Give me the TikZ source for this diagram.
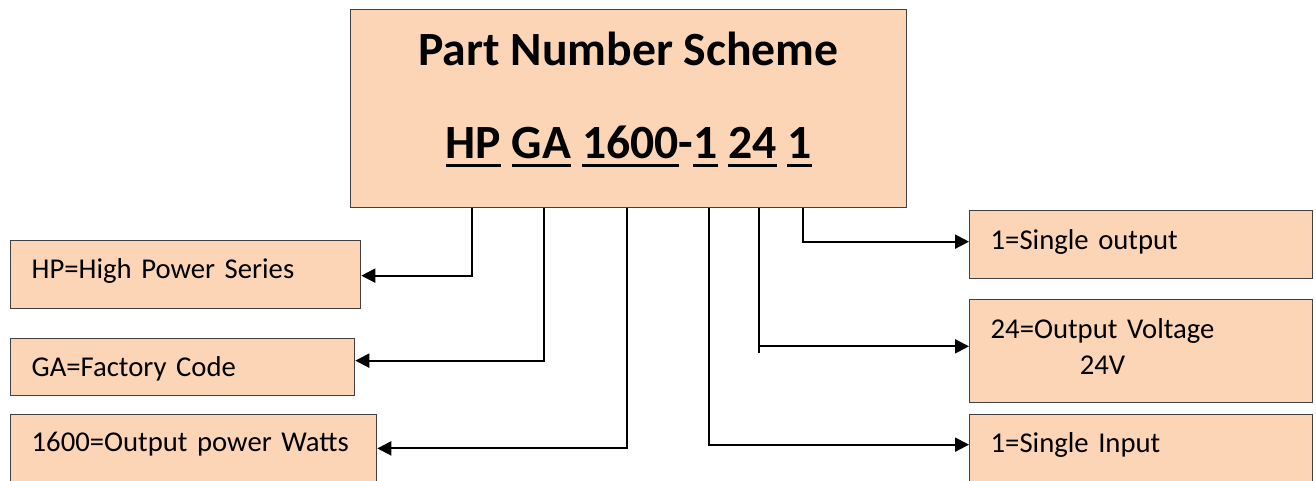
\documentclass[tikz,border=0pt]{standalone}
\usepackage{fontspec}
\setmainfont{Carlito}
\usetikzlibrary{arrows.meta,calc}
\definecolor{peach}{RGB}{251,213,181}
\definecolor{boxline}{RGB}{64,64,64}
\newcommand{\segul}[1]{\setbox0\hbox{#1}\rlap{\rule[-8.5pt]{\wd0}{3pt}}\box0\relax}
\tikzset{
  infobox/.style={draw=boxline, line width=1.3pt, fill=peach, anchor=north west,
    inner xsep=21pt, inner ysep=0pt, align=left, font=\fontsize{28.7}{36}\selectfont},
  feed/.style={line width=2pt, -{Triangle[length=14pt,width=14pt]}},
  wire/.style={line width=2pt}
}
\begin{document}
\begin{tikzpicture}[x=1pt,y=-1pt]
\useasboundingbox (0,0) rectangle (1316,481);
% scheme box
\node[infobox, inner xsep=0pt, minimum width=556pt, text height=149.3pt, text depth=48.4pt,
  align=center, font=\fontsize{47.7}{93}\selectfont\bfseries] (main) at (350,9)
  {Part Number Scheme\\\segul{HP} \segul{GA} \segul{1600}-\segul{1} \segul{24} \segul{1}};
% left column
\node[infobox, text width=308pt, text height=38.3pt, text depth=29.7pt] (hp) at (10,240) {HP=High Power Series};
\node[infobox, text width=302pt, text height=37.7pt, text depth=19.3pt] (ga) at (10,338) {GA=Factory Code};
\node[infobox, text width=324pt, text height=36.7pt, text depth=40pt] (pw) at (10,414) {1600=Output power Watts};
% right column
\node[infobox, text width=301pt, text height=39pt, text depth=29pt] (so) at (969,210) {1=Single output};
\node[infobox, text width=301pt, text height=39pt, text depth=64pt] (ov) at (969,299)
  {\begin{tabular}[t]{@{}c@{}}24=Output Voltage\\24V\end{tabular}};
\node[infobox, text width=301pt, text height=38pt, text depth=40pt] (si) at (969,414) {1=Single Input};
% connectors
\draw[feed] ($(main.south west)+(122,0)$) |- ([yshift=-1pt]hp.east);
\draw[feed] ($(main.south west)+(194,0)$) |- ([yshift=6.5pt]ga.east);
\draw[feed] ($(main.south west)+(277,0)$) |- ([yshift=4.6pt]pw.east);
\draw[feed] ($(main.south west)+(359,0)$) |- ([yshift=9pt]si.west);
\draw[wire] ($(main.south west)+(409,0)$) -- ++(0,145);
\draw[feed] ($(main.south west)+(409,0)$) |- ([yshift=4.8pt]ov.west);
\draw[feed] ($(main.south west)+(453,0)$) |- ([yshift=3pt]so.west);
\end{tikzpicture}
\end{document}
